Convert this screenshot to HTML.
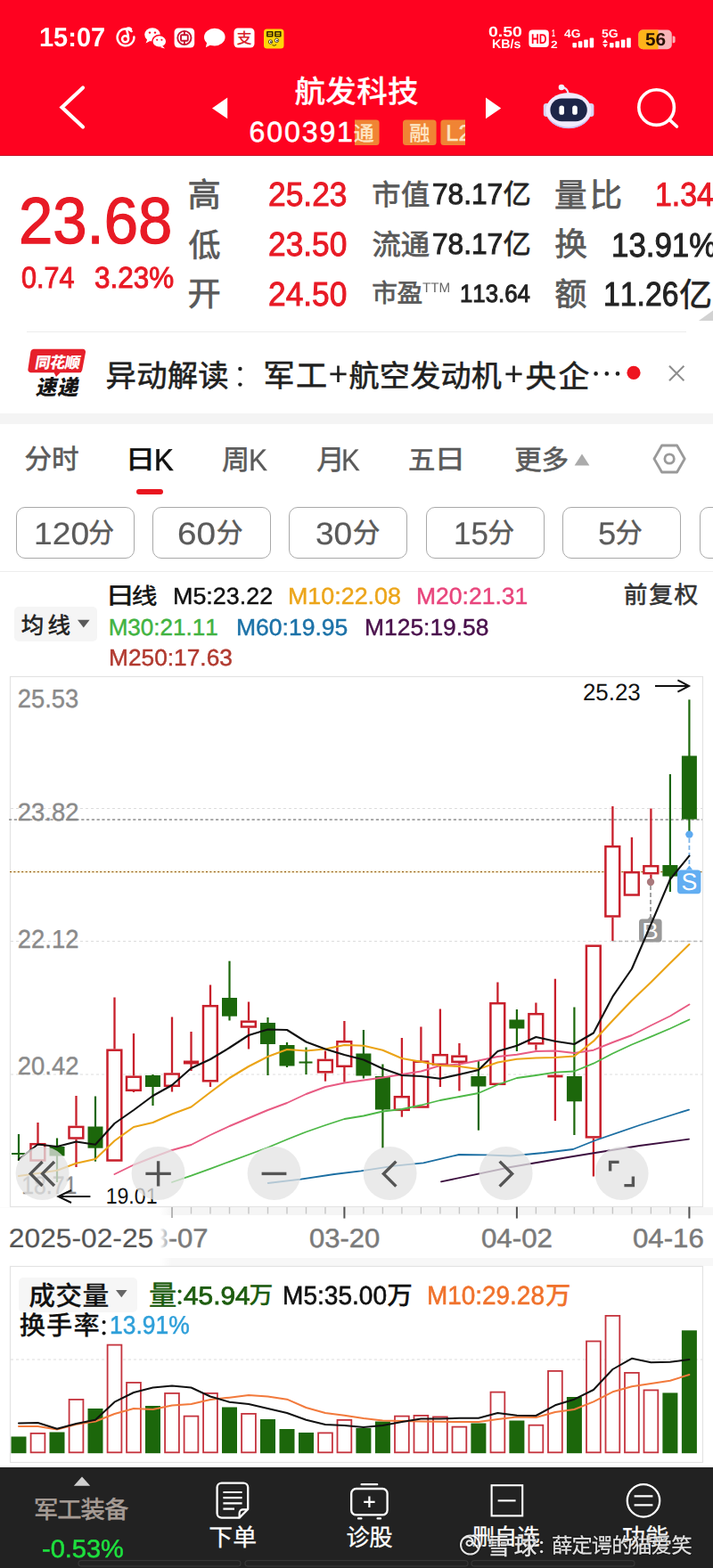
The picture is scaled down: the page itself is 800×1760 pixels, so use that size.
<!DOCTYPE html>
<html lang="zh"><head><meta charset="utf-8"><title>航发科技 600391</title>
<style>
html,body{margin:0;padding:0}
body{width:800px;height:1760px;position:relative;overflow:hidden;background:#fff;font-family:"Liberation Sans","Noto Sans CJK SC",sans-serif}
.t{position:absolute;white-space:nowrap;line-height:1;transform-origin:0 0;z-index:3;text-rendering:geometricPrecision;font-kerning:none}
.h{position:absolute;white-space:nowrap;line-height:1;color:transparent;z-index:0;overflow:hidden;max-width:400px;max-height:60px;pointer-events:none}
.b{position:absolute;box-sizing:border-box}
#ov{position:absolute;left:0;top:0;z-index:2}
#ov text{font-family:"Liberation Sans","Noto Sans CJK SC",sans-serif;white-space:pre;text-rendering:geometricPrecision;font-kerning:none}
</style></head>
<body>
<div class="b" style="left:0;top:0;width:800px;height:175px;background:#fe0220;border-bottom:1.5px solid #c41028"></div>
<div class="b" style="left:30px;top:372px;width:740px;height:1px;background:#ececec"></div>
<div class="b" style="left:0;top:464px;width:800px;height:11.5px;background:#f4f4f4"></div>
<div class="b" style="left:152.6px;top:548.8px;width:30px;height:6.6px;border-radius:3.3px;background:#e9151f"></div>
<div class="b" style="left:17.6px;top:569.4px;width:133px;height:58px;border:1.4px solid #a9a9a9;border-radius:10px"></div>
<div class="b" style="left:171.0px;top:569.4px;width:133px;height:58px;border:1.4px solid #a9a9a9;border-radius:10px"></div>
<div class="b" style="left:324.4px;top:569.4px;width:133px;height:58px;border:1.4px solid #a9a9a9;border-radius:10px"></div>
<div class="b" style="left:477.8px;top:569.4px;width:133px;height:58px;border:1.4px solid #a9a9a9;border-radius:10px"></div>
<div class="b" style="left:631.2px;top:569.4px;width:133px;height:58px;border:1.4px solid #a9a9a9;border-radius:10px"></div>
<div class="b" style="left:784.6px;top:569.4px;width:133px;height:58px;border:1.4px solid #a9a9a9;border-radius:10px"></div>
<div class="b" style="left:0;top:640.6px;width:800px;height:1.2px;background:#ededed"></div>
<div class="b" style="left:15.8px;top:680.6px;width:93px;height:39px;border-radius:5px;background:#f5f5f5"></div>
<div class="b" style="left:0;top:1355px;width:800px;height:9px;background:#f5f5f5"></div>
<div class="b" style="left:0;top:1412px;width:800px;height:9px;background:#f7f7f7"></div>
<div class="b" style="left:21.4px;top:1434px;width:132.6px;height:38.6px;border-radius:5px;background:#f6f6f6"></div>
<div class="b" style="left:0;top:1646.6px;width:800px;height:114px;background:#222"></div>
<span class="h" style="left:331px;top:86px;font-size:34px">航发科技</span>
<span class="h" style="left:398px;top:139px;font-size:23px">通</span>
<span class="h" style="left:461px;top:139px;font-size:23px">融</span>
<span class="h" style="left:213px;top:201px;font-size:37px">高</span>
<span class="h" style="left:213px;top:257px;font-size:36px">低</span>
<span class="h" style="left:213px;top:314px;font-size:37px">开</span>
<span class="h" style="left:419px;top:203px;font-size:32px">市值</span>
<span class="h" style="left:565px;top:203px;font-size:31px">亿</span>
<span class="h" style="left:419px;top:259px;font-size:32px">流通</span>
<span class="h" style="left:565px;top:259px;font-size:31px">亿</span>
<span class="h" style="left:419px;top:314px;font-size:29px">市盈</span>
<span class="h" style="left:624px;top:203px;font-size:37px">量比</span>
<span class="h" style="left:624px;top:256px;font-size:37px">换</span>
<span class="h" style="left:624px;top:313px;font-size:36px">额</span>
<span class="h" style="left:763px;top:313px;font-size:37px">亿</span>
<span class="h" style="left:36px;top:396px;font-size:18px">同花顺速递</span>
<span class="h" style="left:120px;top:406px;font-size:34px">异动解读</span>
<span class="h" style="left:298px;top:407px;font-size:35px">军工</span>
<span class="h" style="left:393px;top:406px;font-size:34px">航空发动机</span>
<span class="h" style="left:591px;top:406px;font-size:35px">央企</span>
<span class="h" style="left:256px;top:404px;font-size:33px">：+ +</span>
<span class="h" style="left:29px;top:501px;font-size:31px">分时</span>
<span class="h" style="left:146px;top:503px;font-size:29px">日</span>
<span class="h" style="left:250px;top:503px;font-size:31px">周</span>
<span class="h" style="left:356px;top:503px;font-size:31px">月</span>
<span class="h" style="left:460px;top:504px;font-size:30px">五</span>
<span class="h" style="left:493px;top:503px;font-size:30px">日</span>
<span class="h" style="left:579px;top:502px;font-size:31px">更多</span>
<span class="h" style="left:100px;top:584px;font-size:31px">分</span>
<span class="h" style="left:244px;top:584px;font-size:31px">分</span>
<span class="h" style="left:397px;top:584px;font-size:31px">分</span>
<span class="h" style="left:549px;top:584px;font-size:31px">分</span>
<span class="h" style="left:692px;top:584px;font-size:31px">分</span>
<span class="h" style="left:25px;top:691px;font-size:25px">均线</span>
<span class="h" style="left:124px;top:657px;font-size:26px">日</span>
<span class="h" style="left:149px;top:657px;font-size:25px">线</span>
<span class="h" style="left:701px;top:655px;font-size:27px">前复权</span>
<span class="h" style="left:33px;top:1440px;font-size:30px">成交量</span>
<span class="h" style="left:168px;top:1440px;font-size:31px">量</span>
<span class="h" style="left:281px;top:1442px;font-size:27px">万</span>
<span class="h" style="left:435px;top:1442px;font-size:29px">万</span>
<span class="h" style="left:613px;top:1442px;font-size:28px">万</span>
<span class="h" style="left:23px;top:1474px;font-size:29px">换手率</span>
<span class="h" style="left:40px;top:1681px;font-size:27px">军工装备</span>
<span class="h" style="left:236px;top:1713px;font-size:27px">下单</span>
<span class="h" style="left:390px;top:1713px;font-size:26px">诊股</span>
<span class="h" style="left:530px;top:1713px;font-size:25px">删自选</span>
<span class="h" style="left:699px;top:1713px;font-size:26px">功能</span>
<span class="h" style="left:549px;top:1725px;font-size:26px">雪球</span>
<span class="h" style="left:620px;top:1723px;font-size:23px">薛定谔的猫爱笑</span>
<span class="h" style="left:600px;top:1723px;font-size:20px">：</span>
<svg id="ov" width="800" height="1760" viewBox="0 0 800 1760">
<g fill="none" stroke="#fff" stroke-width="2.5" stroke-linecap="round"><path d="M147.6 35.2 A9.4 9.4 0 1 0 150.4 41.6"/><circle cx="140.6" cy="43.8" r="3.5"/><path d="M144 43 C144.4 39 142.6 35.6 141.8 32.6 C143.4 31.4 145.6 31.6 147 32.8"/></g>
<g fill="#fff"><ellipse cx="171" cy="38.8" rx="8.8" ry="7.6"/><path d="M165.4 44 l-1.8 4.4 5.2 -2.6z"/><ellipse cx="178.8" cy="46.4" rx="8" ry="6.8" stroke="#fe0220" stroke-width="1.5"/><path d="M182.4 51.4 l2.6 3 -5.4 -1.4z"/></g><g fill="#fe0220"><circle cx="168" cy="36.6" r="1.2"/><circle cx="174" cy="36.6" r="1.2"/><circle cx="176.2" cy="44.8" r="1.05"/><circle cx="181.4" cy="44.8" r="1.05"/></g>
<rect x="195.6" y="31.5" width="22.6" height="22" rx="4.5" fill="#fff"/><g fill="none" stroke="#c8102e" stroke-width="1.9"><circle cx="206.9" cy="42.5" r="7.6"/><rect x="203" y="39.3" width="7.8" height="6.4" rx="1"/><path d="M206.9 35 v4.3 M206.9 45.7 v4.3"/></g>
<g fill="#fff"><ellipse cx="240.8" cy="41.6" rx="11.8" ry="9.8"/><path d="M232.4 47 l-1.6 6.2 7.4 -3.6z"/></g>
<rect x="262.5" y="31.5" width="23" height="22" rx="4.5" fill="#fff"/>
<text x="265.45" y="49.12" font-size="17.16" font-weight="500" fill="#d81e2a">支</text>
<rect x="296" y="32.4" width="22.5" height="22" rx="3.5" fill="#ffd60a"/><g fill="#3a2a00"><rect x="299" y="35" width="7.6" height="6.4" rx="1"/><rect x="308" y="35" width="7.6" height="6.4" rx="1"/></g><g fill="#ffd60a"><rect x="300.6" y="36.6" width="4.4" height="1.3"/><rect x="300.6" y="38.8" width="4.4" height="1.1"/><rect x="309.6" y="36.6" width="4.4" height="1.3"/><rect x="309.6" y="38.8" width="4.4" height="1.1"/></g><g fill="#fff" stroke="#3a2a00" stroke-width="0.8"><circle cx="303.5" cy="47" r="2.2"/><circle cx="310.5" cy="45.4" r="2.2"/></g><circle cx="303.9" cy="47.2" r="0.9" fill="#111"/><circle cx="310.9" cy="45.6" r="0.9" fill="#111"/><path d="M305.5 50.6 q2.5 1.6 4.6 -0.6" stroke="#3a2a00" stroke-width="0.9" fill="none"/>
<rect x="593.4" y="33.5" width="22.4" height="19.6" rx="4" fill="#fff"/>
<g fill="#fff"><rect x="642.4" y="48.0" width="4.6" height="5.4" rx="0.8"/><rect x="648.8" y="46.2" width="4.6" height="7.2" rx="0.8"/><rect x="655.2" y="44.4" width="4.6" height="9" rx="0.8"/><rect x="661.6" y="42.6" width="4.6" height="10.8" rx="0.8"/><rect x="684" y="48.0" width="4.6" height="5.4" rx="0.8"/><rect x="690.4" y="46.2" width="4.6" height="7.2" rx="0.8"/><rect x="696.8" y="44.4" width="4.6" height="9" rx="0.8"/><rect x="703.2" y="42.6" width="4.6" height="10.8" rx="0.8"/><path d="M676 48 l3 -4 3 4z M676 49.6 l3 4 3 -4z"/></g>
<clipPath id="bt"><rect x="716.4" y="33.6" width="37.4" height="21.6" rx="5"/></clipPath><g clip-path="url(#bt)"><rect x="716" y="33" width="39" height="23" fill="#f9b5b9"/><rect x="716" y="33" width="22.5" height="23" fill="#ffb31a"/></g><path d="M754.6 40.4 h1.4 a1.6 1.6 0 0 1 1.6 1.6 v4.6 a1.6 1.6 0 0 1 -1.6 1.6 h-1.4z" fill="#f9b5b9"/>
<path d="M93 98.5 L69.5 120.5 L93 142.5" fill="none" stroke="#fff" stroke-width="4.2" stroke-linecap="round" stroke-linejoin="miter"/>
<text x="330.40 365.28 400.15 435.03" y="114.64" font-size="34.5" font-weight="500" fill="#fff" stroke="#fff" stroke-width="0.2">航发科技</text>
<path d="M255.2 109.6 v23.6 l-17.2 -11.8z M545 109.6 v23.6 l17.2 -11.8z" fill="#fff"/>
<clipPath id="tg"><rect x="398" y="130" width="124" height="40"/></clipPath><g clip-path="url(#tg)" fill="#f08434"><rect x="390" y="134.4" width="35.6" height="28.6" rx="3.5"/><rect x="452" y="134.4" width="37.6" height="28.6" rx="3.5"/><rect x="494.4" y="134.4" width="36" height="28.6" rx="3.5"/></g>
<text x="396.75" y="158.00" font-size="23" font-weight="500" fill="#fde6c4" stroke="#fde6c4" stroke-width="0.15">通</text>
<text x="459.27" y="158.23" font-size="23.29" font-weight="500" fill="#fde6c4" stroke="#fde6c4" stroke-width="0.15">融</text>
<g><path d="M630.4 98.2 q6 0 7.4 7" fill="none" stroke="#e9e2fa" stroke-width="2.2"/><circle cx="630" cy="98" r="3.3" fill="#f4f0ff"/><rect x="609.8" y="116" width="7" height="15" rx="3.2" fill="#d9d2f2"/><rect x="659.4" y="116" width="7" height="15" rx="3.2" fill="#d9d2f2"/><ellipse cx="638" cy="124" rx="25.6" ry="20" fill="#efeafc"/><path d="M613.5 130 a25.6 20 0 0 0 49 0 a30 30 0 0 1 -49 0z" fill="#c9bdf0"/><rect x="617.4" y="110.6" width="41.4" height="25.6" rx="12.8" fill="#1d2548"/><rect x="627.4" y="118.6" width="5.6" height="10.2" rx="2.6" fill="#fff"/><rect x="642.2" y="118.6" width="5.6" height="10.2" rx="2.6" fill="#fff"/></g>
<g fill="none" stroke="#fff" stroke-width="3.6" stroke-linecap="round"><circle cx="736.6" cy="120.6" r="19.8"/><path d="M751.4 134.6 L759.4 142"/></g>
<text x="210.61" y="232.26" font-size="37.32" fill="#595959" stroke="#595959" stroke-width="0.75">高</text>
<text x="211.59" y="288.18" font-size="36.01" fill="#595959" stroke="#595959" stroke-width="0.75">低</text>
<text x="210.55" y="343.18" font-size="37.27" fill="#595959" stroke="#595959" stroke-width="0.75">开</text>
<text x="417.16 450.11" y="229.78" font-size="32.24" fill="#595959" stroke="#595959" stroke-width="0.75">市值</text>
<text x="564.50" y="229.22" font-size="31.38" fill="#222" stroke="#222" stroke-width="0.6">亿</text>
<text x="417.51 449.66" y="286.24" font-size="32.34" fill="#595959" stroke="#595959" stroke-width="0.75">流通</text>
<text x="564.50" y="285.42" font-size="31.38" fill="#222" stroke="#222" stroke-width="0.6">亿</text>
<text x="417.34 445.38" y="338.54" font-size="28.68" fill="#595959" stroke="#595959" stroke-width="0.75">市盈</text>
<text x="622.08 661.49" y="232.07" font-size="36.63" fill="#595959" stroke="#595959" stroke-width="0.75">量比</text>
<text x="622.19" y="286.74" font-size="36.64" fill="#595959" stroke="#595959" stroke-width="0.75">换</text>
<text x="622.33" y="342.91" font-size="36.14" fill="#595959" stroke="#595959" stroke-width="0.75">额</text>
<text x="762.08" y="343.53" font-size="37.2" fill="#222" stroke="#222" stroke-width="0.6">亿</text>
<path d="M784 360 L800 348.5 V360z" fill="#d2d2d2"/>
<path d="M37.6 391.8 H93 a3 3 0 0 1 3 3.6 L92.2 415.4 a3.6 3.6 0 0 1 -3.4 2.8 H67.6 L63 423 L60.6 418.2 H34.4 a3 3 0 0 1 -3 -3.6 L34.4 394.8 a3.6 3.6 0 0 1 3.2 -3z" fill="#e6202b"/>
<text transform="translate(38.43 413.00) skewX(-10)" x="0 16.75 33.5" y="0" font-size="17.2" font-weight="900" fill="#fff">同花顺</text>
<text transform="translate(39.85 443.42) skewX(-12)" x="0 24.05" y="0" font-size="23.4" font-weight="900" fill="#151515">速递</text>
<text x="118.62 153.17 187.73 222.29" y="434.17" font-size="34.32" fill="#1f1f1f" stroke="#1f1f1f" stroke-width="0.6">异动解读</text>
<g fill="#1f1f1f"><circle cx="269.4" cy="414" r="2.2"/><circle cx="269.4" cy="431.6" r="2.2"/></g>
<text x="295.53 331.99" y="433.95" font-size="35.13" fill="#1f1f1f" stroke="#1f1f1f" stroke-width="0.6">军工</text>
<path d="M370.4 419.8 H388.6 M379.5 410.6 V429" stroke="#1f1f1f" stroke-width="2.7" fill="none"/>
<text x="391.44 425.80 460.16 494.52 528.87" y="434.20" font-size="34.04" fill="#1f1f1f" stroke="#1f1f1f" stroke-width="0.6">航空发动机</text>
<path d="M567.4 419.8 H585.6 M576.5 410.6 V429" stroke="#1f1f1f" stroke-width="2.7" fill="none"/>
<text x="589.50 626.56" y="434.55" font-size="34.78" fill="#1f1f1f" stroke="#1f1f1f" stroke-width="0.6">央企</text>
<g fill="#1f1f1f"><circle cx="668.6" cy="419.4" r="2.3"/><circle cx="680.8" cy="419.4" r="2.3"/><circle cx="693" cy="419.4" r="2.3"/></g>
<circle cx="711" cy="418.4" r="7.6" fill="#ee1520"/>
<path d="M751 410.8 L767.4 427.2 M767.4 410.8 L751 427.2" stroke="#8c8c8c" stroke-width="2" fill="none"/>
<text x="27.45 57.97" y="526.20" font-size="30.59" fill="#5a5a5a" stroke="#5a5a5a" stroke-width="0.6">分时</text>
<text transform="translate(140.55 526.06) scale(1.1542 1)" font-size="29.31" font-weight="500" fill="#111" stroke="#111" stroke-width="0.3">日</text>
<text x="248.91" y="526.87" font-size="31.09" fill="#5a5a5a" stroke="#5a5a5a" stroke-width="0.6">周</text>
<text x="355.37" y="526.97" font-size="31.36" fill="#5a5a5a" stroke="#5a5a5a" stroke-width="0.6">月</text>
<text transform="translate(457.90 526.84) scale(1.0043 1)" font-size="30.21" fill="#5a5a5a" stroke="#5a5a5a" stroke-width="0.6">五</text>
<text transform="translate(487.12 526.15) scale(1.1998 1)" font-size="29.73" fill="#5a5a5a" stroke="#5a5a5a" stroke-width="0.55">日</text>
<text x="577.36 607.50" y="527.13" font-size="30.62" fill="#5a5a5a" stroke="#5a5a5a" stroke-width="0.6">更多</text>
<path d="M644.6 522.6 L653 509.6 L661.4 522.6z" fill="#ababab"/>
<g fill="none" stroke="#9a9a9a" stroke-width="2.8" stroke-linejoin="round"><path d="M742.6 500 h17 l8.6 15 l-8.6 15 h-17 l-8.6 -15z"/><circle cx="751.1" cy="515" r="5.2"/></g>
<text transform="translate(99.13 609.23) scale(0.9305 1)" font-size="30.94" fill="#5a5a5a" stroke="#5a5a5a" stroke-width="0.5">分</text>
<text transform="translate(242.69 609.23) scale(0.9657 1)" font-size="30.94" fill="#5a5a5a" stroke="#5a5a5a" stroke-width="0.5">分</text>
<text transform="translate(395.65 609.23) scale(0.9939 1)" font-size="30.94" fill="#5a5a5a" stroke="#5a5a5a" stroke-width="0.5">分</text>
<text transform="translate(547.49 609.23) scale(0.9586 1)" font-size="30.94" fill="#5a5a5a" stroke="#5a5a5a" stroke-width="0.5">分</text>
<text transform="translate(690.47 609.23) scale(0.9800 1)" font-size="30.94" fill="#5a5a5a" stroke="#5a5a5a" stroke-width="0.5">分</text>
<text x="23.68 53.46" y="710.71" font-size="25.48" fill="#222" stroke="#222" stroke-width="0.6">均线</text>
<path d="M87 695.8 h13.6 l-6.8 8.8z" fill="#5a5a5a"/>
<text transform="translate(118.10 677.58) scale(1.2705 1)" font-size="26.4" fill="#111" stroke="#111" stroke-width="0.55">日</text>
<text transform="translate(147.86 677.86) scale(1.1331 1)" font-size="25.24" fill="#111" stroke="#111" stroke-width="0.55">线</text>
<text x="699.79 728.19 756.60" y="676.53" font-size="26.66" fill="#333" stroke="#333" stroke-width="0.6">前复权</text>
<rect x="11.5" y="759.5" width="777" height="595" fill="none" stroke="#e3e3e3" stroke-width="1.2"/>
<path d="M12 907.5 H788" stroke="#dcdcdc" stroke-width="1" stroke-dasharray="3 3"/>
<path d="M12 1056.5 H788" stroke="#dcdcdc" stroke-width="1" stroke-dasharray="3 3"/>
<path d="M12 1206 H788" stroke="#dcdcdc" stroke-width="1" stroke-dasharray="3 3"/>
<path d="M687 1056.5 H788" stroke="#b9b9b9" stroke-width="1.4" stroke-dasharray="4 3"/>
<path d="M10 920 H788" stroke="#8f8f8f" stroke-width="1.4" stroke-dasharray="3.2 2.6"/>
<path d="M11 978.6 H788" stroke="#fdf8e4" stroke-width="3"/>
<path d="M11 978.6 H788" stroke="#96611c" stroke-width="1.2" stroke-dasharray="2 2.4"/>
<text transform="translate(19.83 794.40) scale(0.9445 1)" font-size="28.93" fill="#8a8a8a" stroke="#8a8a8a" stroke-width="0.4">25.53</text>
<text transform="translate(19.82 921.40) scale(0.9760 1)" font-size="28.07" fill="#8a8a8a" stroke="#8a8a8a" stroke-width="0.4">23.82</text>
<text transform="translate(19.82 1064.20) scale(0.9470 1)" font-size="28.93" fill="#8a8a8a" stroke="#8a8a8a" stroke-width="0.4">22.12</text>
<text transform="translate(19.82 1205.60) scale(0.9661 1)" font-size="28.36" fill="#8a8a8a" stroke="#8a8a8a" stroke-width="0.4">20.42</text>
<text transform="translate(24.32 1340.40) scale(0.8811 1)" font-size="28.07" fill="#8a8a8a" stroke="#8a8a8a" stroke-width="0.4">18.71</text>
<path d="M21.0 1273 V1303 M13.0 1295 H28.0" stroke="#1c670b" stroke-width="2.2" fill="none"/>
<path d="M42.5 1260 V1283" stroke="#c81f2b" stroke-width="2.3"/>
<rect x="34.5" y="1284.2" width="15.8" height="18.3" fill="#fff" stroke="#c81f2b" stroke-width="2.5"/>
<path d="M64.0 1277.5 V1327" stroke="#1c670b" stroke-width="2.2"/>
<rect x="55.5" y="1287" width="17" height="10.5" fill="#1c670b"/>
<path d="M85.5 1230 V1263.7" stroke="#c81f2b" stroke-width="2.3"/>
<path d="M85.5 1278.7 V1310" stroke="#c81f2b" stroke-width="2.3"/>
<rect x="77.5" y="1264.9" width="15.8" height="12.6" fill="#fff" stroke="#c81f2b" stroke-width="2.5"/>
<path d="M107.0 1230.5 V1303.7" stroke="#1c670b" stroke-width="2.2"/>
<rect x="98.5" y="1264.5" width="17" height="24.2" fill="#1c670b"/>
<path d="M128.5 1119.5 V1177.5" stroke="#c81f2b" stroke-width="2.3"/>
<rect x="120.5" y="1178.7" width="15.8" height="123.8" fill="#fff" stroke="#c81f2b" stroke-width="2.5"/>
<path d="M150.0 1160 V1207.5" stroke="#c81f2b" stroke-width="2.3"/>
<path d="M150.0 1225 V1226" stroke="#c81f2b" stroke-width="2.3"/>
<rect x="142.0" y="1208.7" width="15.8" height="15.1" fill="#fff" stroke="#c81f2b" stroke-width="2.5"/>
<path d="M171.5 1206 V1241" stroke="#1c670b" stroke-width="2.2"/>
<rect x="163.0" y="1207" width="17" height="13.0" fill="#1c670b"/>
<path d="M193.0 1141.5 V1204.3" stroke="#c81f2b" stroke-width="2.3"/>
<path d="M193.0 1220 V1225.5" stroke="#c81f2b" stroke-width="2.3"/>
<rect x="185.0" y="1205.5" width="15.8" height="13.3" fill="#fff" stroke="#c81f2b" stroke-width="2.5"/>
<path d="M214.5 1158 V1202" stroke="#c81f2b" stroke-width="2.3"/>
<path d="M205.9 1192.5 H223.1" stroke="#c81f2b" stroke-width="4"/>
<path d="M236.0 1105.5 V1128" stroke="#c81f2b" stroke-width="2.3"/>
<path d="M236.0 1214.5 V1220" stroke="#c81f2b" stroke-width="2.3"/>
<rect x="228.0" y="1129.2" width="15.8" height="84.1" fill="#fff" stroke="#c81f2b" stroke-width="2.5"/>
<path d="M257.5 1078.7 V1145.5" stroke="#1c670b" stroke-width="2.2"/>
<rect x="249.0" y="1120" width="17" height="20.7" fill="#1c670b"/>
<path d="M279.0 1124.5 V1145.5" stroke="#c81f2b" stroke-width="2.3"/>
<path d="M279.0 1153.7 V1177.5" stroke="#c81f2b" stroke-width="2.3"/>
<rect x="271.0" y="1146.7" width="15.8" height="5.8" fill="#fff" stroke="#c81f2b" stroke-width="2.5"/>
<path d="M300.5 1142 V1207" stroke="#1c670b" stroke-width="2.2"/>
<rect x="292.0" y="1148" width="17" height="24.0" fill="#1c670b"/>
<path d="M322.0 1170 V1198" stroke="#1c670b" stroke-width="2.2"/>
<rect x="313.5" y="1173" width="17" height="23.5" fill="#1c670b"/>
<path d="M343.5 1175.5 V1206 M335.5 1192.5 H350.5" stroke="#1c670b" stroke-width="2.2" fill="none"/>
<path d="M365.0 1179.5 V1188.7" stroke="#c81f2b" stroke-width="2.3"/>
<path d="M365.0 1204.5 V1213.7" stroke="#c81f2b" stroke-width="2.3"/>
<rect x="357.0" y="1189.9" width="15.8" height="13.4" fill="#fff" stroke="#c81f2b" stroke-width="2.5"/>
<path d="M386.4 1146 V1168" stroke="#c81f2b" stroke-width="2.3"/>
<path d="M386.4 1198 V1214.7" stroke="#c81f2b" stroke-width="2.3"/>
<rect x="378.4" y="1169.2" width="15.8" height="27.6" fill="#fff" stroke="#c81f2b" stroke-width="2.5"/>
<path d="M407.9 1156 V1210.5" stroke="#1c670b" stroke-width="2.2"/>
<rect x="399.4" y="1182.5" width="17" height="25.0" fill="#1c670b"/>
<path d="M429.4 1194.5 V1288.7" stroke="#1c670b" stroke-width="2.2"/>
<rect x="420.9" y="1208" width="17" height="37.5" fill="#1c670b"/>
<path d="M450.9 1165 V1230" stroke="#c81f2b" stroke-width="2.3"/>
<path d="M450.9 1247 V1253.7" stroke="#c81f2b" stroke-width="2.3"/>
<rect x="442.9" y="1231.2" width="15.8" height="14.6" fill="#fff" stroke="#c81f2b" stroke-width="2.5"/>
<path d="M472.4 1152.5 V1190.5" stroke="#c81f2b" stroke-width="2.3"/>
<rect x="464.4" y="1191.7" width="15.8" height="50.8" fill="#fff" stroke="#c81f2b" stroke-width="2.5"/>
<path d="M493.9 1132.5 V1183" stroke="#c81f2b" stroke-width="2.3"/>
<path d="M493.9 1196 V1220" stroke="#c81f2b" stroke-width="2.3"/>
<rect x="485.9" y="1184.2" width="15.8" height="10.6" fill="#fff" stroke="#c81f2b" stroke-width="2.5"/>
<path d="M515.4 1171 V1184.5" stroke="#c81f2b" stroke-width="2.3"/>
<path d="M515.4 1193 V1224.5" stroke="#c81f2b" stroke-width="2.3"/>
<rect x="507.4" y="1185.7" width="15.8" height="6.1" fill="#fff" stroke="#c81f2b" stroke-width="2.5"/>
<path d="M536.9 1191 V1268.7" stroke="#1c670b" stroke-width="2.2"/>
<rect x="528.4" y="1208" width="17" height="11.5" fill="#1c670b"/>
<path d="M558.4 1102.5 V1125" stroke="#c81f2b" stroke-width="2.3"/>
<rect x="550.4" y="1126.2" width="15.8" height="90.6" fill="#fff" stroke="#c81f2b" stroke-width="2.5"/>
<path d="M579.9 1133 V1180" stroke="#1c670b" stroke-width="2.2"/>
<rect x="571.4" y="1144.5" width="17" height="10.0" fill="#1c670b"/>
<path d="M601.4 1125.5 V1137" stroke="#c81f2b" stroke-width="2.3"/>
<path d="M601.4 1172.5 V1178.7" stroke="#c81f2b" stroke-width="2.3"/>
<rect x="593.4" y="1138.2" width="15.8" height="33.1" fill="#fff" stroke="#c81f2b" stroke-width="2.5"/>
<path d="M622.9 1098.7 V1258" stroke="#c81f2b" stroke-width="2.3"/>
<path d="M614.3 1208 H631.5" stroke="#c81f2b" stroke-width="2.8"/>
<path d="M644.4 1130.5 V1274" stroke="#1c670b" stroke-width="2.2"/>
<rect x="635.9" y="1208" width="17" height="28.3" fill="#1c670b"/>
<path d="M665.9 1277.6 V1320.5" stroke="#c81f2b" stroke-width="2.3"/>
<rect x="657.9" y="1061.7" width="15.8" height="214.7" fill="#fff" stroke="#c81f2b" stroke-width="2.5"/>
<path d="M687.4 905 V949" stroke="#c81f2b" stroke-width="2.3"/>
<path d="M687.4 1029.7 V1056" stroke="#c81f2b" stroke-width="2.3"/>
<rect x="679.4" y="950.2" width="15.8" height="78.3" fill="#fff" stroke="#c81f2b" stroke-width="2.5"/>
<path d="M708.9 939.8 V978" stroke="#c81f2b" stroke-width="2.3"/>
<rect x="700.9" y="979.2" width="15.8" height="25.3" fill="#fff" stroke="#c81f2b" stroke-width="2.5"/>
<path d="M730.4 907.5 V971" stroke="#c81f2b" stroke-width="2.3"/>
<path d="M730.4 981.4 V988" stroke="#c81f2b" stroke-width="2.3"/>
<rect x="722.4" y="972.2" width="15.8" height="8.0" fill="#fff" stroke="#c81f2b" stroke-width="2.5"/>
<path d="M751.9 869 V1001" stroke="#1c670b" stroke-width="2.2"/>
<rect x="743.4" y="971" width="17" height="12.6" fill="#1c670b"/>
<path d="M773.4 785.3 V933" stroke="#1c670b" stroke-width="2.2"/>
<rect x="764.9" y="848.4" width="17" height="71.2" fill="#1c670b"/>
<path d="M730 994 V1030" stroke="#9a9a9a" stroke-width="1.8" stroke-dasharray="5 3"/>
<circle cx="730" cy="990" r="4.2" fill="#a9797c"/>
<path d="M730 1027.6 l3.4 4.4 h-6.8z" fill="#999"/><rect x="717" y="1031.6" width="25.6" height="25.8" rx="3.6" fill="#999"/>
<text transform="translate(720.32 1053.60) scale(1.0629 1)" font-size="26.16" fill="#fff">B</text>
<path d="M773.4 941 V974" stroke="#7db4e8" stroke-width="1.8" stroke-dasharray="5 3"/>
<circle cx="773.4" cy="936.6" r="4.2" fill="#5eaaf0"/>
<path d="M773.4 971.6 l3.8 5 h-7.6z" fill="#62aef2"/><rect x="760" y="976.4" width="26.4" height="26.8" rx="3.6" fill="#62aef2"/>
<text transform="translate(764.39 999.40) scale(0.9935 1)" font-size="26.92" fill="#fff">S</text>
<polyline points="495.0,1326.4 573.0,1310.0 643.0,1298.0 717.5,1286.0 773.0,1278.6" fill="none" stroke="#3d1040" stroke-width="1.8" stroke-linejoin="round" stroke-linecap="round"/>
<polyline points="300.7,1328.0 337.5,1323.7 375.0,1318.0 405.0,1314.4 442.5,1308.7 475.0,1305.4 515.0,1296.0 545.0,1296.4 573.0,1297.5 610.0,1294.0 643.0,1290.0 668.0,1280.0 717.5,1263.0 773.0,1245.6" fill="none" stroke="#1b6ea2" stroke-width="1.8" stroke-linejoin="round" stroke-linecap="round"/>
<polyline points="193.0,1327.0 214.5,1319.7 236.0,1311.8 257.5,1303.8 279.0,1296.0 300.5,1288.0 322.0,1279.0 343.5,1270.5 365.0,1263.0 386.4,1256.0 407.9,1252.5 429.4,1247.5 450.9,1245.0 472.4,1240.5 493.9,1235.0 515.4,1231.0 536.9,1227.0 558.4,1217.5 579.9,1210.0 601.4,1207.0 622.9,1203.7 644.4,1202.5 665.9,1193.7 687.4,1182.5 708.9,1172.5 730.4,1163.7 751.9,1154.5 773.4,1144.5" fill="none" stroke="#4db847" stroke-width="1.8" stroke-linejoin="round" stroke-linecap="round"/>
<polyline points="128.5,1318.0 150.0,1307.5 171.5,1299.0 193.0,1291.0 214.5,1285.0 236.0,1274.0 257.5,1264.0 279.0,1255.0 300.5,1246.0 322.0,1238.0 343.5,1228.0 365.0,1220.0 386.4,1215.5 407.9,1212.5 429.4,1209.5 450.9,1206.0 472.4,1202.5 493.9,1196.0 515.4,1194.5 536.9,1190.5 558.4,1186.0 579.9,1183.7 601.4,1180.0 622.9,1179.5 644.4,1182.0 665.9,1178.7 687.4,1170.0 708.9,1162.0 730.4,1151.0 751.9,1140.5 773.4,1127.5" fill="none" stroke="#e85b83" stroke-width="1.9" stroke-linejoin="round" stroke-linecap="round"/>
<polyline points="21.0,1320.0 42.5,1317.0 64.0,1313.7 85.5,1305.7 107.0,1301.0 128.5,1280.5 150.0,1265.0 171.5,1260.0 193.0,1250.5 214.5,1242.5 236.0,1226.0 257.5,1210.0 279.0,1197.0 300.5,1186.0 322.0,1178.0 343.5,1179.5 365.0,1177.5 386.4,1173.0 407.9,1173.7 429.4,1178.7 450.9,1188.0 472.4,1191.7 493.9,1196.0 515.4,1197.0 536.9,1200.0 558.4,1192.5 579.9,1188.7 601.4,1187.5 622.9,1187.0 644.4,1185.5 665.9,1168.7 687.4,1145.5 708.9,1123.0 730.4,1102.5 751.9,1081.0 773.4,1060.0" fill="none" stroke="#eba417" stroke-width="2.1" stroke-linejoin="round" stroke-linecap="round"/>
<polyline points="21.0,1301.5 42.5,1284.5 64.0,1287.0 85.5,1281.5 107.0,1284.7 128.5,1261.0 150.0,1246.0 171.5,1230.0 193.0,1218.0 214.5,1199.0 236.0,1189.0 257.5,1176.0 279.0,1162.0 300.5,1155.5 322.0,1156.0 343.5,1169.5 365.0,1177.5 386.4,1184.0 407.9,1189.5 429.4,1199.5 450.9,1207.0 472.4,1208.0 493.9,1210.7 515.4,1206.0 536.9,1201.0 558.4,1180.0 579.9,1173.7 601.4,1164.0 622.9,1168.7 644.4,1172.0 665.9,1159.5 687.4,1118.7 708.9,1087.5 730.4,1037.5 751.9,987.0 773.4,960.6" fill="none" stroke="#111" stroke-width="2.1" stroke-linejoin="round" stroke-linecap="round"/>
<text transform="translate(653.90 785.80) scale(0.9727 1)" font-size="26.64" fill="#111">25.23</text>
<path d="M735 770 H772 M760.4 763.4 L773 770 L760.4 776.6" fill="none" stroke="#111" stroke-width="2"/>
<text transform="translate(118.64 1351.20) scale(0.9178 1)" font-size="25.21" fill="#111">19.01</text>
<path d="M101.4 1343 H66 M80 1336 L65.4 1343 L80 1350" fill="none" stroke="#111" stroke-width="2"/>
<circle cx="47.6" cy="1317" r="30" fill="#e4e4e4" opacity="0.76"/>
<path d="M61 1304 L47.6 1317.4 L61 1331 M47.6 1304 L34.2 1317.4 L47.6 1331" fill="none" stroke="#555" stroke-width="3.4"/>
<circle cx="177.6" cy="1317" r="30" fill="#e4e4e4" opacity="0.76"/>
<path d="M163.4 1317.4 H191.8 M177.6 1303.2 V1331.6" fill="none" stroke="#555" stroke-width="3.4"/>
<circle cx="307.6" cy="1317" r="30" fill="#e4e4e4" opacity="0.76"/>
<path d="M293.6 1317.4 H321.4" fill="none" stroke="#555" stroke-width="3.4"/>
<circle cx="437.6" cy="1317" r="30" fill="#e4e4e4" opacity="0.76"/>
<path d="M444.4 1303.6 L430.4 1317.6 L444.4 1331.6" fill="none" stroke="#555" stroke-width="3.4"/>
<circle cx="567.6" cy="1317" r="30" fill="#e4e4e4" opacity="0.76"/>
<path d="M560.6 1303.6 L574.6 1317.6 L560.6 1331.6" fill="none" stroke="#555" stroke-width="3.4"/>
<circle cx="697.6" cy="1317" r="30" fill="#e4e4e4" opacity="0.76"/>
<path d="M684.6 1314.4 V1304.4 H694.6 M700.4 1330.6 H710.4 V1320.6" fill="none" stroke="#555" stroke-width="3.4"/>
<path d="M193.0 1355 V1362.6 M214.5 1355 V1362.6 M236.0 1355 V1362.6 M257.5 1355 V1362.6 M279.0 1355 V1362.6 M300.5 1355 V1362.6 M322.0 1355 V1362.6 M343.5 1355 V1362.6 M365.0 1355 V1362.6 M386.4 1355 V1362.6 M407.9 1355 V1362.6 M429.4 1355 V1362.6 M450.9 1355 V1362.6 M472.4 1355 V1362.6 M493.9 1355 V1362.6 M515.4 1355 V1362.6 M536.9 1355 V1362.6 M558.4 1355 V1362.6 M579.9 1355 V1362.6 M601.4 1355 V1362.6 M622.9 1355 V1362.6 M644.4 1355 V1362.6 M665.9 1355 V1362.6 M687.4 1355 V1362.6 M708.9 1355 V1362.6 M730.4 1355 V1362.6 M751.9 1355 V1362.6 M773.4 1355 V1362.6 " stroke="#c6c6c6" stroke-width="1.4"/>
<path d="M193.0 1355 V1367" stroke="#b5b5b5" stroke-width="2"/>
<path d="M386.4 1354.6 V1367.6" stroke="#555" stroke-width="2"/>
<path d="M579.9 1354.6 V1367.6" stroke="#555" stroke-width="2"/>
<path d="M773.4 1354.6 V1367.6" stroke="#555" stroke-width="2"/>
<text transform="translate(154.19 1400.00) scale(1.0418 1)" font-size="29.79" fill="#7a7a7a" stroke="#7a7a7a" stroke-width="0.5">03-07</text>
<defs><linearGradient id="wf" x1="0" x2="1" y1="0" y2="0"><stop offset="0" stop-color="#fff"/><stop offset="0.93" stop-color="#fff"/><stop offset="1" stop-color="#fff" stop-opacity="0"/></linearGradient></defs>
<rect x="0" y="1355.4" width="193" height="65.6" fill="url(#wf)"/>
<text transform="translate(9.80 1400.00) scale(1.0666 1)" font-size="29.79" fill="#555" stroke="#555" stroke-width="0.2">2025-02-25</text>
<text transform="translate(346.99 1400.00) scale(1.0398 1)" font-size="29.79" fill="#7a7a7a" stroke="#7a7a7a" stroke-width="0.5">03-20</text>
<text transform="translate(539.98 1400.00) scale(1.0500 1)" font-size="29.79" fill="#7a7a7a" stroke="#7a7a7a" stroke-width="0.5">04-02</text>
<text transform="translate(709.98 1400.00) scale(1.0473 1)" font-size="29.79" fill="#7a7a7a" stroke="#7a7a7a" stroke-width="0.5">04-16</text>
<rect x="11.5" y="1421.5" width="777" height="220" fill="none" stroke="#e3e3e3" stroke-width="1.2"/>
<path d="M12 1526 H788" stroke="#dcdcdc" stroke-width="1" stroke-dasharray="3 3"/>
<text x="32.27 62.35 92.43" y="1464.97" font-size="29.85" font-weight="500" fill="#111" stroke="#111" stroke-width="0.2">成交量</text>
<path d="M130 1448 h12.6 l-6.3 8.2z" fill="#666"/>
<text x="166.93" y="1465.47" font-size="31.27" fill="#1d5c0f" stroke="#1d5c0f" stroke-width="0.5">量</text>
<g fill="#1d5c0f"><circle cx="201.6" cy="1449.6" r="2"/><circle cx="201.6" cy="1462.2" r="2"/></g>
<text x="279.42" y="1463.32" font-size="26.85" font-weight="500" fill="#1d5c0f" stroke="#1d5c0f" stroke-width="0.2">万</text>
<text x="434.17" y="1463.93" font-size="28.61" font-weight="500" fill="#111" stroke="#111" stroke-width="0.2">万</text>
<text x="611.92" y="1463.89" font-size="28.5" font-weight="500" fill="#f0722c" stroke="#f0722c" stroke-width="0.2">万</text>
<text x="21.69 52.09 82.48" y="1498.31" font-size="29.3" font-weight="500" fill="#111" stroke="#111" stroke-width="0.2">换手率</text>
<g fill="#111"><circle cx="116.6" cy="1484" r="2"/><circle cx="116.6" cy="1496.4" r="2"/></g>
<rect x="12.5" y="1612.5" width="17" height="18.7" fill="#1c670b"/>
<rect x="34.6" y="1608.9" width="15.8" height="21.4" fill="#fff" stroke="#c5343e" stroke-width="1.8"/>
<rect x="55.5" y="1607.5" width="17" height="23.7" fill="#1c670b"/>
<rect x="77.6" y="1570.9" width="15.8" height="59.4" fill="#fff" stroke="#c5343e" stroke-width="1.8"/>
<rect x="98.5" y="1581" width="17" height="50.2" fill="#1c670b"/>
<rect x="120.6" y="1509.6" width="15.8" height="120.7" fill="#fff" stroke="#c5343e" stroke-width="1.8"/>
<rect x="142.1" y="1551.9" width="15.8" height="78.4" fill="#fff" stroke="#c5343e" stroke-width="1.8"/>
<rect x="163.0" y="1578" width="17" height="53.2" fill="#1c670b"/>
<rect x="185.1" y="1563.9" width="15.8" height="66.4" fill="#fff" stroke="#c5343e" stroke-width="1.8"/>
<rect x="206.6" y="1589.6" width="15.8" height="40.7" fill="#fff" stroke="#c5343e" stroke-width="1.8"/>
<rect x="228.1" y="1563.9" width="15.8" height="66.4" fill="#fff" stroke="#c5343e" stroke-width="1.8"/>
<rect x="249.0" y="1579.5" width="17" height="51.7" fill="#1c670b"/>
<rect x="271.1" y="1586.9" width="15.8" height="43.4" fill="#fff" stroke="#c5343e" stroke-width="1.8"/>
<rect x="292.0" y="1593" width="17" height="38.2" fill="#1c670b"/>
<rect x="313.5" y="1604" width="17" height="27.2" fill="#1c670b"/>
<rect x="335.0" y="1608" width="17" height="23.2" fill="#1c670b"/>
<rect x="357.1" y="1608.4" width="15.8" height="21.9" fill="#fff" stroke="#c5343e" stroke-width="1.8"/>
<rect x="378.5" y="1593.9" width="15.8" height="36.4" fill="#fff" stroke="#c5343e" stroke-width="1.8"/>
<rect x="399.4" y="1603" width="17" height="28.2" fill="#1c670b"/>
<rect x="420.9" y="1595.5" width="17" height="35.7" fill="#1c670b"/>
<rect x="443.0" y="1589.6" width="15.8" height="40.7" fill="#fff" stroke="#c5343e" stroke-width="1.8"/>
<rect x="464.5" y="1588.9" width="15.8" height="41.4" fill="#fff" stroke="#c5343e" stroke-width="1.8"/>
<rect x="486.0" y="1590.4" width="15.8" height="39.9" fill="#fff" stroke="#c5343e" stroke-width="1.8"/>
<rect x="507.5" y="1601.6" width="15.8" height="28.7" fill="#fff" stroke="#c5343e" stroke-width="1.8"/>
<rect x="528.4" y="1597.5" width="17" height="33.7" fill="#1c670b"/>
<rect x="550.5" y="1562.6" width="15.8" height="67.7" fill="#fff" stroke="#c5343e" stroke-width="1.8"/>
<rect x="571.4" y="1594.5" width="17" height="36.7" fill="#1c670b"/>
<rect x="593.5" y="1599.7" width="15.8" height="30.6" fill="#fff" stroke="#c5343e" stroke-width="1.8"/>
<rect x="615.0" y="1538.9" width="15.8" height="91.4" fill="#fff" stroke="#c5343e" stroke-width="1.8"/>
<rect x="635.9" y="1568" width="17" height="63.2" fill="#1c670b"/>
<rect x="658.0" y="1505.5" width="15.8" height="124.8" fill="#fff" stroke="#c5343e" stroke-width="1.8"/>
<rect x="679.5" y="1476.9" width="15.8" height="153.4" fill="#fff" stroke="#c5343e" stroke-width="1.8"/>
<rect x="701.0" y="1540.9" width="15.8" height="89.4" fill="#fff" stroke="#c5343e" stroke-width="1.8"/>
<rect x="722.5" y="1560.4" width="15.8" height="69.9" fill="#fff" stroke="#c5343e" stroke-width="1.8"/>
<rect x="743.4" y="1563.4" width="17" height="67.8" fill="#1c670b"/>
<rect x="764.9" y="1493.3" width="17" height="137.9" fill="#1c670b"/>
<polyline points="21.0,1601.0 42.5,1601.0 64.0,1604.5 85.5,1598.7 107.0,1595.5 128.5,1587.0 150.0,1581.0 171.5,1582.0 193.0,1577.5 214.5,1576.0 236.0,1571.0 257.5,1568.7 279.0,1566.0 300.5,1567.5 322.0,1570.7 343.5,1580.0 365.0,1586.0 386.4,1588.7 407.9,1592.0 429.4,1594.5 450.9,1595.0 472.4,1595.5 493.9,1595.7 515.4,1596.0 536.9,1596.0 558.4,1593.0 579.9,1590.5 601.4,1591.0 622.9,1585.0 644.4,1582.0 665.9,1573.4 687.4,1562.3 708.9,1556.3 730.4,1553.0 751.9,1549.7 773.4,1543.0" fill="none" stroke="#f27a3c" stroke-width="2" stroke-linejoin="round" stroke-linecap="round"/>
<polyline points="21.0,1597.5 42.5,1597.0 64.0,1603.7 85.5,1598.0 107.0,1593.7 128.5,1573.7 150.0,1563.0 171.5,1557.5 193.0,1555.5 214.5,1557.5 236.0,1567.5 257.5,1573.7 279.0,1576.0 300.5,1581.0 322.0,1586.0 343.5,1593.7 365.0,1599.0 386.4,1600.0 407.9,1602.0 429.4,1600.0 450.9,1596.0 472.4,1592.5 493.9,1592.5 515.4,1591.7 536.9,1591.7 558.4,1586.0 579.9,1588.7 601.4,1589.0 622.9,1577.3 644.4,1570.7 665.9,1560.0 687.4,1537.0 708.9,1524.8 730.4,1529.3 751.9,1528.7 773.4,1526.0" fill="none" stroke="#111" stroke-width="2" stroke-linejoin="round" stroke-linecap="round"/>
<path d="M82.8 1667.8 L92 1657.6 L101.2 1667.8z" fill="#cfcfcf"/>
<text x="37.93 64.25 90.57 116.89" y="1703.82" font-size="27.24" fill="#a69c95" stroke="#a69c95" stroke-width="0.6">军工装备</text>
<g fill="none" stroke="#fff" stroke-width="2.3" stroke-linejoin="round"><path d="M248.6 1664.6 h24.6 a5 5 0 0 1 5 5 v24.4 l-9.6 9.6 h-20 a5 5 0 0 1 -5 -5 v-29 a5 5 0 0 1 5 -5z"/><path d="M278 1694.4 h-5.4 a4 4 0 0 0 -4 4 v5" stroke-width="2.2"/></g><path d="M250.4 1675 H271.6 M250.4 1681.2 H271.6 M250.4 1687.4 H271.6 M250.4 1693.6 H263" stroke="#fff" stroke-width="2.2" fill="none"/>
<text x="234.33 261.35" y="1735.05" font-size="26.82" fill="#fff" stroke="#fff" stroke-width="0.3">下单</text>
<g fill="none" stroke="#fff" stroke-width="2.3"><rect x="394.2" y="1671" width="40.4" height="29.4" rx="5.4"/><path d="M405.6 1666.2 H423.2" stroke-linecap="round"/><path d="M402 1704.4 H405.4 M423.6 1704.4 H427" stroke-linecap="round"/><path d="M408.2 1685.8 H420.6 M414.4 1679.6 V1692" stroke-width="2.2"/></g>
<text x="388.39 414.32" y="1735.03" font-size="26.4" fill="#fff" stroke="#fff" stroke-width="0.3">诊股</text>
<g fill="none" stroke="#fff" stroke-width="2.1"><rect x="551.6" y="1667.2" width="34.6" height="34.2"/><path d="M558.6 1684.4 H578.6"/></g>
<text x="529.41 554.79 580.18" y="1734.10" font-size="25.49" fill="#fff" stroke="#fff" stroke-width="0.3">删自选</text>
<g fill="none" stroke="#fff" stroke-width="2.3"><circle cx="722" cy="1684.4" r="18.2"/><path d="M711.6 1679.4 H732.4 M711.6 1689.4 H732.4" stroke-width="2.2"/></g>
<text x="698.01 724.22" y="1734.47" font-size="25.94" fill="#fff" stroke="#fff" stroke-width="0.3">功能</text>
<g fill="none" stroke="#353535" stroke-width="1.3"><rect x="88" y="1751.6" width="182" height="6.4" rx="3.2"/><rect x="275" y="1751.6" width="250" height="6.4" rx="3.2"/><rect x="529" y="1751.6" width="183" height="6.4" rx="3.2"/></g>
<g fill="none" stroke="#fff" stroke-width="2" opacity="0.88" style="filter:drop-shadow(0 0 1px rgba(0,0,0,.8))"><circle cx="527.6" cy="1734" r="10.6"/><path d="M519.6 1727.4 c3.4 -3.4 9 -2.6 10.6 1.4 c1.6 4 -2.6 7.4 -5.4 5.6 c-2.4 -1.6 -1.2 -5 1.6 -5.2 c4.4 0 7.4 5.6 10.6 9.400"/></g>
<g style="filter:drop-shadow(0 0 1.2px rgba(0,0,0,.9))">
<text x="546.81 576.55" y="1745.03" font-size="26" font-weight="500" fill="#fff" opacity="0.88">雪球</text>
<g fill="#fff" opacity="0.88"><circle cx="607.6" cy="1731.4" r="1.7"/><circle cx="607.6" cy="1741.6" r="1.7"/></g>
<text x="619.05 641.41 663.77 686.13 708.50 730.86 753.22" y="1742.72" font-size="23.34" fill="#fff" stroke="#fff" stroke-width="0.2" opacity="0.88">薛定谔的猫爱笑</text>
</g>
</svg>
<span class="t " style="left:44.18px;top:28.00px;font-size:30.08px;color:#fff;transform:scaleX(0.9633);font-weight:700;">15:07</span>
<span class="t " style="left:547.83px;top:28.00px;font-size:16.04px;color:#fff;transform:scaleX(1.2163);font-weight:700;">0.50</span>
<span class="t " style="left:551.65px;top:42.00px;font-size:14.08px;color:#fff;transform:scaleX(1.0114);font-weight:700;">KB/s</span>
<span class="t " style="left:595.79px;top:37.00px;font-size:15.70px;color:#fe0220;transform:scaleX(0.7728);font-weight:700;">HD</span>
<span class="t " style="left:618.97px;top:33.00px;font-size:11.34px;color:#fff;transform:scaleX(0.6066);font-weight:700;">1</span>
<span class="t " style="left:617.52px;top:45.00px;font-size:11.74px;color:#fff;transform:scaleX(1.1673);font-weight:700;">2</span>
<span class="t " style="left:633.39px;top:32.00px;font-size:12.89px;color:#fff;transform:scaleX(1.0741);font-weight:700;">4G</span>
<span class="t " style="left:675.17px;top:32.00px;font-size:12.89px;color:#fff;transform:scaleX(1.0876);font-weight:700;">5G</span>
<span class="t " style="left:723.76px;top:35.00px;font-size:20.05px;color:#2a1205;transform:scaleX(1.0400);font-weight:700;">56</span>
<span class="t " style="left:279.57px;top:132.00px;font-size:32.08px;color:#fff;letter-spacing:1.87px;-webkit-text-stroke:0.55px #fff;">600391</span>
<div class="b" style="left:480px;top:130px;width:41.6px;height:40px;overflow:hidden;z-index:3"><span class="t " style="left:20.31px;top:8.00px;font-size:25.49px;color:#fde6c4;-webkit-text-stroke:0.5px #fde6c4;">L2</span></div>
<span class="t " style="left:21.34px;top:211.00px;font-size:73.61px;color:#e81a25;transform:scaleX(0.9351);-webkit-text-stroke:1.25px #e81a25;">23.68</span>
<span class="t " style="left:23.61px;top:296.00px;font-size:33.51px;color:#e81a25;transform:scaleX(0.9121);-webkit-text-stroke:1.0px #e81a25;">0.74</span>
<span class="t " style="left:105.80px;top:296.00px;font-size:33.51px;color:#e81a25;transform:scaleX(0.9378);-webkit-text-stroke:1.0px #e81a25;">3.23%</span>
<span class="t " style="left:301.42px;top:201.00px;font-size:37.81px;color:#e81a25;transform:scaleX(0.9357);-webkit-text-stroke:1.0px #e81a25;">25.23</span>
<span class="t " style="left:301.42px;top:257.00px;font-size:37.81px;color:#e81a25;transform:scaleX(0.9338);-webkit-text-stroke:1.0px #e81a25;">23.50</span>
<span class="t " style="left:301.42px;top:313.00px;font-size:37.81px;color:#e81a25;transform:scaleX(0.9338);-webkit-text-stroke:1.0px #e81a25;">24.50</span>
<span class="t " style="left:485.18px;top:202.00px;font-size:32.94px;color:#222;transform:scaleX(0.9610);-webkit-text-stroke:1.0px #222;">78.17</span>
<span class="t " style="left:485.18px;top:258.00px;font-size:32.94px;color:#222;transform:scaleX(0.9610);-webkit-text-stroke:1.0px #222;">78.17</span>
<span class="t " style="left:474.06px;top:316.00px;font-size:15.41px;color:#666;transform:scaleX(0.9851);">TTM</span>
<span class="t " style="left:516.43px;top:316.00px;font-size:28.07px;color:#222;transform:scaleX(0.9192);-webkit-text-stroke:1.0px #222;">113.64</span>
<span class="t " style="left:734.83px;top:200.00px;font-size:37.52px;color:#e81a25;transform:scaleX(0.9005);-webkit-text-stroke:1.0px #e81a25;">1.34</span>
<span class="t " style="left:686.34px;top:258.00px;font-size:37.81px;color:#222;transform:scaleX(0.9225);-webkit-text-stroke:1.0px #222;">13.91%</span>
<span class="t " style="left:677.43px;top:313.00px;font-size:37.81px;color:#222;transform:scaleX(0.8926);-webkit-text-stroke:1.0px #222;">11.26</span>
<span class="t " style="left:172.94px;top:500.00px;font-size:34.30px;color:#111;transform:scaleX(0.9451);-webkit-text-stroke:0.6px #111;">K</span>
<span class="t " style="left:278.83px;top:500.00px;font-size:34.01px;color:#5a5a5a;transform:scaleX(0.9224);-webkit-text-stroke:0.3px #5a5a5a;">K</span>
<span class="t " style="left:382.85px;top:500.00px;font-size:34.01px;color:#5a5a5a;transform:scaleX(0.9122);-webkit-text-stroke:0.3px #5a5a5a;">K</span>
<span class="t " style="left:38.37px;top:582.00px;font-size:35.23px;color:#5a5a5a;transform:scaleX(1.0562);-webkit-text-stroke:0.2px #5a5a5a;">120</span>
<span class="t " style="left:199.43px;top:582.00px;font-size:35.23px;color:#5a5a5a;transform:scaleX(1.0993);-webkit-text-stroke:0.2px #5a5a5a;">60</span>
<span class="t " style="left:354.19px;top:582.00px;font-size:35.23px;color:#5a5a5a;transform:scaleX(1.0529);-webkit-text-stroke:0.2px #5a5a5a;">30</span>
<span class="t " style="left:508.73px;top:582.00px;font-size:35.76px;color:#5a5a5a;transform:scaleX(0.9790);-webkit-text-stroke:0.2px #5a5a5a;">15</span>
<span class="t " style="left:671.35px;top:582.00px;font-size:35.76px;color:#5a5a5a;transform:scaleX(1.0146);-webkit-text-stroke:0.2px #5a5a5a;">5</span>
<span class="t " style="left:193.59px;top:656.00px;font-size:26.35px;color:#111;transform:scaleX(1.0208);-webkit-text-stroke:0.45px #111;">M5:23.22</span>
<span class="t " style="left:323.40px;top:656.00px;font-size:26.35px;color:#eca51a;transform:scaleX(1.0196);-webkit-text-stroke:0.45px #eca51a;">M10:22.08</span>
<span class="t " style="left:467.03px;top:656.00px;font-size:26.35px;color:#e8457c;transform:scaleX(1.0059);-webkit-text-stroke:0.45px #e8457c;">M20:21.31</span>
<span class="t " style="left:121.66px;top:691.00px;font-size:26.07px;color:#41b341;-webkit-text-stroke:0.45px #41b341;">M30:21.11</span>
<span class="t " style="left:265.03px;top:691.00px;font-size:26.07px;color:#1c72a8;transform:scaleX(1.0172);-webkit-text-stroke:0.45px #1c72a8;">M60:19.95</span>
<span class="t " style="left:409.03px;top:691.00px;font-size:26.07px;color:#4a104c;transform:scaleX(1.0134);-webkit-text-stroke:0.45px #4a104c;">M125:19.58</span>
<span class="t " style="left:121.64px;top:725.00px;font-size:26.07px;color:#b13a30;transform:scaleX(1.0090);-webkit-text-stroke:0.45px #b13a30;">M250:17.63</span>
<span class="t " style="left:205.52px;top:1441.00px;font-size:28.36px;color:#1d5c0f;transform:scaleX(1.0507);-webkit-text-stroke:0.8px #1d5c0f;">45.94</span>
<span class="t " style="left:316.90px;top:1441.00px;font-size:29.22px;color:#111;transform:scaleX(0.9605);-webkit-text-stroke:0.6px #111;">M5:35.00</span>
<span class="t " style="left:478.91px;top:1441.00px;font-size:29.22px;color:#f0722c;transform:scaleX(0.9554);-webkit-text-stroke:0.6px #f0722c;">M10:29.28</span>
<span class="t " style="left:123.18px;top:1474.00px;font-size:28.64px;color:#2e9fd9;transform:scaleX(0.9240);-webkit-text-stroke:0.5px #2e9fd9;">13.91%</span>
<span class="t " style="left:46.91px;top:1725.00px;font-size:28.36px;color:#1ee03e;transform:scaleX(1.0208);-webkit-text-stroke:0.55px #1ee03e;">-0.53%</span>
</body></html>
